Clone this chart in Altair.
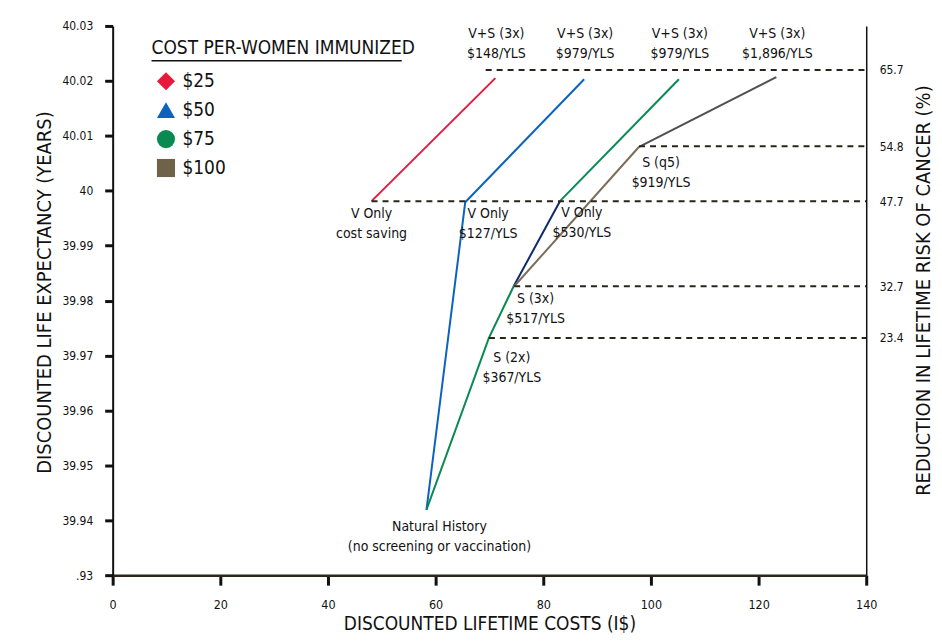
import altair as alt
import pandas as pd

FONT = "Liberation Sans Narrow, DejaVu Sans Condensed, Roboto Condensed, Noto Sans, sans-serif"

# ---------------- data ----------------
cost_labels = ["$25", "$50", "$75", "$100"]
legend_colors = ["#e8193c", "#0b63bd", "#088a50", "#6e6248"]
legend_shapes = ["diamond", "triangle-up", "circle", "square"]

# strategy curves: discounted lifetime cost (I$) vs discounted life expectancy (years)
red_x = [48.1, 71.1]
red_y = [39.9981, 40.0205]
blue_x = [58.3, 65.5, 87.6]
blue_y = [39.9419, 39.9979, 40.0203]
green_x = [58.3, 69.9, 74.5, 83.1, 105.2]
green_y = [39.9419, 39.9732, 39.9826, 39.9981, 40.0203]
gray_x = [74.6, 97.8, 123.3]
gray_y = [39.9826, 40.0080, 40.0207]

# reference levels (dashed) with reduction in lifetime risk of cancer (%)
level_y = [40.0220, 40.0081, 39.9981, 39.9826, 39.9732]
level_x0 = [69.3, 97.8, 48.1, 74.6, 69.9]
level_pct = ["65.7", "54.8", "47.7", "32.7", "23.4"]
X_MAX = 140

y_ticks = [39.93, 39.94, 39.95, 39.96, 39.97, 39.98, 39.99, 40.0, 40.01, 40.02, 40.03]
x_ticks = [0, 20, 40, 60, 80, 100, 120, 140]

# annotations
top_text = ["V+S (3x)\n$148/YLS", "V+S (3x)\n$979/YLS", "V+S (3x)\n$979/YLS", "V+S (3x)\n$1,896/YLS"]
top_x = [red_x[-1], blue_x[-1], green_x[-1], gray_x[-1]]

vonly_b_text = "V Only\n$127/YLS"
vonly_g_text = "V Only\n$530/YLS"
s3_text = "S (3x)\n$517/YLS"
s2_text = "S (2x)\n$367/YLS"
sq5_text = "S (q5)\n$919/YLS"
vonly_r_text = "V Only\ncost saving"
nh_text = "Natural History\n(no screening or vaccination)"

# ---------------- tables ----------------
segments = [
    ("r", red_x, red_y),
    ("b", blue_x, blue_y),
    ("g1", green_x[0:3], green_y[0:3]),
    ("nav", green_x[2:4], green_y[2:4]),
    ("g2", green_x[3:5], green_y[3:5]),
    ("k1", gray_x[0:2], gray_y[0:2]),
    ("k2", gray_x[1:3], gray_y[1:3]),
]
seg_colors = {"r": "#e8193c", "b": "#0b63bd", "g1": "#088a50", "nav": "#0e2a6b",
              "g2": "#088a50", "k1": "#7a6e58", "k2": "#505050"}
rows = []
for key, xs, ys in segments:
    for i, (xv, yv) in enumerate(zip(xs, ys)):
        rows.append({"key": key, "ord": i, "cost": xv, "le": yv})
lines_df = pd.DataFrame(rows)

legend_df = pd.DataFrame({"key": cost_labels,
                          "cost": [red_x[-1], blue_x[-1], green_x[-1], gray_x[-1]],
                          "le": [red_y[-1], blue_y[-1], green_y[-1], gray_y[-1]]})

levels_df = pd.DataFrame({"le": level_y, "x0": level_x0, "x1": [X_MAX] * len(level_y), "pct": level_pct})

top_df = pd.DataFrame({"cost": top_x, "le": [level_y[0]] * 4, "t": top_text})

ydom = [39.93, 40.03]
yscale = alt.Scale(domain=ydom, zero=False, nice=False)
xscale = alt.Scale(domain=[0, X_MAX], nice=False)

full_domain = cost_labels + list(seg_colors.keys())
color_scale = alt.Scale(domain=full_domain, range=legend_colors + list(seg_colors.values()))
shape_scale = alt.Scale(domain=full_domain, range=legend_shapes + ["circle"] * len(seg_colors))
legend_def = alt.Legend(title="COST PER-WOMEN IMMUNIZED", values=cost_labels, orient="none",
                        legendX=39, legendY=13, symbolOpacity=1, titleLimit=400,
                        symbolSize=330, symbolStrokeWidth=0,
                        symbolOffset=5, labelOffset=7, rowPadding=9,
                        titlePadding=14, titleFontSize=19, labelFontSize=19,
                        titleFont=FONT, labelFont=FONT,
                        titleFontWeight="normal", titleColor="#111", labelColor="#111")

pct_expr = ""
for lv, p in zip(level_y, level_pct):
    pct_expr += f"abs(datum.value-{lv})<0.00001 ? '{p}' : "
pct_expr += "''"

# ---------------- layers ----------------
lines = alt.Chart(lines_df).mark_line(strokeWidth=2).encode(
    x=alt.X("cost:Q", scale=xscale, axis=alt.Axis(
        values=x_ticks, title="DISCOUNTED LIFETIME COSTS (I$)", grid=False, labelFlush=False,
        domainColor="#2b2618", domainWidth=2.5, tickColor="#111", tickWidth=3, tickSize=10,
        labelFontSize=12.5, labelPadding=13, labelFont=FONT, labelColor="#111",
        titleFont=FONT, titleFontSize=19, titleFontWeight="normal", titleColor="#111",
        titleX=378, titleY=49, titleBaseline="middle")),
    y=alt.Y("le:Q", scale=yscale, axis=alt.Axis(
        values=y_ticks, title="DISCOUNTED LIFE EXPECTANCY (YEARS)", grid=False, labelFlush=False,
        labelExpr="datum.value < 39.935 ? '.93' : format(datum.value, '.2~f')",
        domainColor="#111", domainWidth=2, tickColor="#111", tickWidth=3, tickSize=8,
        labelFontSize=12, labelPadding=12, labelFont=FONT, labelColor="#111",
        titleFont=FONT, titleFontSize=20, titleFontWeight="normal", titleColor="#111",
        titleAngle=270, titleX=-68, titleY=267, titleAlign="center", titleBaseline="middle")),
    color=alt.Color("key:N", scale=color_scale, legend=legend_def),
    order="ord:Q",
)

rules = alt.Chart(levels_df).mark_rule(strokeDash=[6, 5], strokeWidth=2, color="#2b2519").encode(
    x=alt.X("x0:Q", scale=xscale, axis=None),
    x2="x1:Q",
    y=alt.Y("le:Q", scale=yscale, axis=alt.Axis(
        orient="right", values=level_y, labelExpr=pct_expr, grid=False, ticks=False,
        labelFlush=False,
        domainColor="#111", domainWidth=1.5, labelFontSize=12, labelPadding=13,
        labelFont=FONT, labelColor="#111",
        title="REDUCTION IN LIFETIME RISK OF CANCER (%)",
        titleFont=FONT, titleFontSize=20, titleFontWeight="normal", titleColor="#111",
        titleAngle=270, titleX=57, titleY=265, titleAlign="center", titleBaseline="middle")),
)

legend_pts = alt.Chart(legend_df).mark_point(filled=True, opacity=0).encode(
    x=alt.X("cost:Q", scale=xscale, axis=None),
    y=alt.Y("le:Q", scale=yscale, axis=None),
    color=alt.Color("key:N", scale=color_scale, legend=legend_def),
    shape=alt.Shape("key:N", scale=shape_scale, legend=legend_def),
)

underline = alt.Chart(pd.DataFrame({"a": [0]})).mark_rule(color="#111", strokeWidth=1.5).encode(
    x=alt.value(39), x2=alt.value(290), y=alt.value(35)
)


def text_layer(df, **kw):
    return alt.Chart(df).mark_text(font=FONT, fontSize=14, color="#111", lineBreak="\n",
                                   lineHeight=20, **kw).encode(
        x=alt.X("cost:Q", scale=xscale, axis=None),
        y=alt.Y("le:Q", scale=yscale, axis=None),
        text="t:N",
    )


def one(text, xv, yv, dx, dy):
    return text_layer(pd.DataFrame({"cost": [xv], "le": [yv], "t": [text]}),
                      align="center", baseline="top", dx=dx, dy=dy)


top_lbl = text_layer(top_df, align="center", baseline="top", dx=1, dy=-43)
labels = [
    top_lbl,
    one(vonly_b_text, blue_x[1], blue_y[1], 23, 5),
    one(vonly_g_text, green_x[3], green_y[3], 22, 5),
    one(s3_text, green_x[2], green_y[2], 22, 6),
    one(s2_text, green_x[1], green_y[1], 23, 13),
    one(sq5_text, gray_x[1], gray_y[1], 22, 9),
    one(vonly_r_text, red_x[0], red_y[0], 0, 6),
    one(nh_text, blue_x[0], blue_y[0], 13, 10),
]

chart = alt.layer(
    lines, rules, legend_pts, underline, *labels
).resolve_axis(
    x="independent", y="independent"
).properties(
    width=756, height=551,
    autosize=alt.AutoSizeParams(type="none"),
    padding={"left": 105, "top": 17, "right": 68, "bottom": 58},
    background="white",
).configure_view(stroke=None)

chart.save("out.html", embed_options={"renderer": "svg", "actions": False})
